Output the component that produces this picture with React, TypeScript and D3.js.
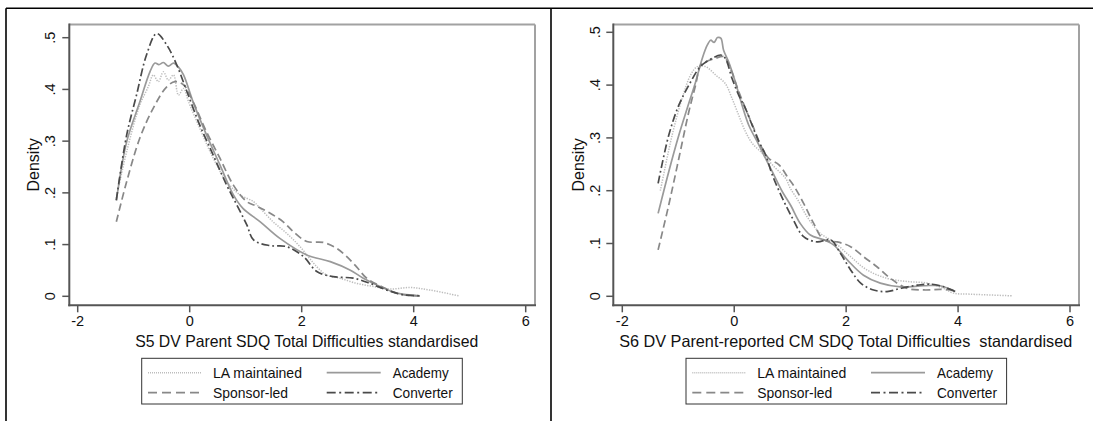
import React from 'react';
import * as d3 from 'd3';

type Pt = [number, number];

// Axis ticks shared by both panels
const xTicks = [-2, 0, 2, 4, 6];
const yTicks = [0, 0.1, 0.2, 0.3, 0.4, 0.5];
const seriesNames = ['LA maintained', 'Academy', 'Sponsor-led', 'Converter'];

// Kernel density estimates, sweep 5 (x = standardised score, y = density)
const s5LaMaintained: Pt[] = [
  [-1.31, 0.19], [-1.125, 0.28], [-0.89, 0.37], [-0.74, 0.405], [-0.65, 0.428], [-0.56, 0.415],
  [-0.47, 0.434], [-0.38, 0.418], [-0.29, 0.428], [-0.2, 0.389], [-0.11, 0.402], [-0.02, 0.376],
  [0.18, 0.325], [0.42, 0.267], [0.66, 0.222], [0.9, 0.196], [1.14, 0.183], [1.26, 0.17],
  [1.49, 0.144], [1.73, 0.122], [1.97, 0.096], [2.27, 0.057], [2.45, 0.041], [2.68, 0.035],
  [2.98, 0.025], [3.28, 0.019], [3.58, 0.014], [3.93, 0.017], [4.29, 0.012], [4.8, 0.001],
];
const s5Academy: Pt[] = [
  [-1.31, 0.185], [-1.125, 0.299], [-0.89, 0.376], [-0.71, 0.434], [-0.62, 0.451], [-0.55, 0.448],
  [-0.47, 0.452], [-0.38, 0.445], [-0.29, 0.451], [-0.2, 0.443], [-0.11, 0.428], [0.06, 0.376],
  [0.3, 0.312], [0.54, 0.254], [0.78, 0.196], [0.95, 0.17], [1.26, 0.144], [1.61, 0.112],
  [2.09, 0.08], [2.51, 0.067], [2.86, 0.051], [3.1, 0.035], [3.4, 0.019], [3.7, 0.006], [4.11, 0.001],
];
const s5SponsorLed: Pt[] = [
  [-1.31, 0.144], [-1.125, 0.222], [-0.89, 0.306], [-0.65, 0.364], [-0.41, 0.405], [-0.26, 0.415],
  [-0.11, 0.409], [0.06, 0.376], [0.3, 0.318], [0.54, 0.267], [0.78, 0.215], [1.02, 0.183],
  [1.2, 0.174], [1.43, 0.161], [1.67, 0.144], [1.85, 0.125], [2.09, 0.106], [2.39, 0.104],
  [2.62, 0.093], [2.8, 0.077], [2.98, 0.057], [3.16, 0.035], [3.46, 0.017], [3.76, 0.004], [4.11, 0.001],
];
const s5Converter: Pt[] = [
  [-1.31, 0.186], [-1.125, 0.312], [-0.95, 0.389], [-0.77, 0.467], [-0.59, 0.508], [-0.41, 0.486],
  [-0.23, 0.447], [-0.05, 0.396], [0.18, 0.331], [0.42, 0.273], [0.66, 0.215], [0.84, 0.177],
  [1.02, 0.138], [1.14, 0.109], [1.43, 0.098], [1.73, 0.096], [2.03, 0.077], [2.27, 0.048],
  [2.56, 0.038], [2.92, 0.035], [3.22, 0.025], [3.52, 0.012], [3.81, 0.003], [4.14, 0.001],
];

// Kernel density estimates, sweep 6
const s6LaMaintained: Pt[] = [
  [-1.32, 0.2], [-1.11, 0.305], [-0.93, 0.375], [-0.78, 0.419], [-0.66, 0.435], [-0.51, 0.435],
  [-0.33, 0.419], [-0.16, 0.403], [-0.04, 0.375], [0.08, 0.343], [0.2, 0.312], [0.32, 0.29],
  [0.5, 0.271], [0.68, 0.249], [0.92, 0.223], [1.0, 0.205], [1.15, 0.18], [1.3, 0.151],
  [1.54, 0.119], [1.78, 0.103], [2.08, 0.075], [2.37, 0.05], [2.73, 0.034], [3.09, 0.028],
  [3.45, 0.025], [3.74, 0.015], [3.92, 0.006], [4.22, 0.004], [4.96, 0.001],
];
const s6Academy: Pt[] = [
  [-1.36, 0.157], [-1.17, 0.236], [-0.99, 0.305], [-0.84, 0.356], [-0.69, 0.406], [-0.57, 0.451],
  [-0.48, 0.476], [-0.42, 0.485], [-0.36, 0.481], [-0.3, 0.49], [-0.24, 0.489], [-0.19, 0.466],
  [-0.1, 0.444], [0.02, 0.406], [0.14, 0.362], [0.26, 0.324], [0.44, 0.287], [0.56, 0.261],
  [0.68, 0.236], [0.86, 0.198], [1.01, 0.172], [1.18, 0.138], [1.36, 0.116], [1.6, 0.107],
  [1.78, 0.097], [2.02, 0.069], [2.31, 0.04], [2.61, 0.025], [2.97, 0.018], [3.39, 0.02],
  [3.68, 0.02], [3.95, 0.009],
];
const s6SponsorLed: Pt[] = [
  [-1.36, 0.088], [-1.17, 0.173], [-0.99, 0.261], [-0.81, 0.35], [-0.69, 0.4], [-0.6, 0.438],
  [-0.51, 0.444], [-0.33, 0.451], [-0.19, 0.454], [-0.07, 0.432], [0.08, 0.388], [0.2, 0.356],
  [0.35, 0.318], [0.5, 0.28], [0.62, 0.261], [0.8, 0.249], [0.97, 0.223], [1.06, 0.21],
  [1.24, 0.176], [1.42, 0.138], [1.6, 0.107], [1.84, 0.103], [2.08, 0.094], [2.31, 0.075],
  [2.55, 0.056], [2.79, 0.034], [3.09, 0.015], [3.39, 0.012], [3.68, 0.013], [3.95, 0.012],
];
const s6Converter: Pt[] = [
  [-1.36, 0.214], [-1.17, 0.305], [-0.99, 0.362], [-0.81, 0.4], [-0.63, 0.432], [-0.54, 0.441],
  [-0.39, 0.451], [-0.24, 0.457], [-0.16, 0.451], [-0.04, 0.413], [0.08, 0.381], [0.2, 0.356],
  [0.32, 0.324], [0.44, 0.293], [0.56, 0.268], [0.68, 0.23], [0.86, 0.186], [1.04, 0.148],
  [1.24, 0.113], [1.48, 0.103], [1.72, 0.107], [1.9, 0.081], [2.08, 0.05], [2.26, 0.025],
  [2.49, 0.012], [2.73, 0.009], [2.97, 0.015], [3.27, 0.021], [3.51, 0.023], [3.74, 0.018],
  [3.95, 0.009],
];

const lineStyles: Record<string, { stroke: string; dash?: string; width: number; legendDash?: string }> = {
  'LA maintained': { stroke: '#bdbdbd', dash: '1.3 1.3', width: 1.5, legendDash: '1 1' },
  Academy: { stroke: '#9a9a9a', width: 1.7 },
  'Sponsor-led': { stroke: '#888888', dash: '7.5 4', width: 1.7, legendDash: '9 5' },
  Converter: { stroke: '#4a4a4a', dash: '8 3 1.8 3', width: 1.7, legendDash: '9 3.5 2 3.5' },
};

const FONT = "'Liberation Sans', Arial, Helvetica, sans-serif";

interface PanelLayout {
  frame: { left: number; right: number; top: number; bottom: number };
  xRange: [number, number];
  yRange: [number, number];
  yLabelX: number;
  densityX: number;
  title: string;
  titleX: number;
  titleWidth: number;
  legendX: number;
}

function Panel({ layout, series }: { layout: PanelLayout; series: Pt[][] }) {
  const { frame } = layout;
  const x = d3.scaleLinear().domain([-2, 6]).range(layout.xRange);
  const y = d3.scaleLinear().domain([0, 0.5]).range(layout.yRange);
  const line = d3
    .line<Pt>()
    .x((d) => x(d[0]))
    .y((d) => y(d[1]))
    .curve(d3.curveCatmullRom.alpha(0.5));
  const fmt = (v: number) => (v === 0 ? '0' : d3.format('.1f')(v).replace(/^0/, ''));

  const legendY = 358.3;
  const legendH = 45.7;
  const legendW = 320.6;
  const lx = layout.legendX;
  const legendItems = [
    { name: seriesNames[0], col: 0, row: 0 },
    { name: seriesNames[1], col: 1, row: 0 },
    { name: seriesNames[2], col: 0, row: 1 },
    { name: seriesNames[3], col: 1, row: 1 },
  ];
  const legendTextWidth: Record<string, number> = {
    'LA maintained': 89,
    Academy: 56,
    'Sponsor-led': 75,
    Converter: 60,
  };

  return (
    <g>
      {/* plot region outline */}
      <line x1={frame.left} x2={frame.right} y1={frame.top} y2={frame.top} stroke="#a2a2a2" strokeWidth={2} />
      <line x1={frame.right} x2={frame.right} y1={frame.top} y2={frame.bottom} stroke="#a2a2a2" strokeWidth={2} />
      {/* density curves */}
      {series.map((pts, i) => {
        const st = lineStyles[seriesNames[i]];
        return (
          <path
            key={seriesNames[i]}
            d={line(pts) || ''}
            fill="none"
            stroke={st.stroke}
            strokeWidth={st.width}
            strokeDasharray={st.dash}
          />
        );
      })}
      {/* axes */}
      <line x1={frame.left} x2={frame.left} y1={frame.top - 1} y2={frame.bottom + 1} stroke="#555" strokeWidth={2} />
      <line x1={frame.left - 1} x2={frame.right + 1} y1={frame.bottom} y2={frame.bottom} stroke="#555" strokeWidth={2} />
      {yTicks.map((t) => (
        <g key={'y' + t}>
          <line x1={frame.left - 7} x2={frame.left} y1={y(t)} y2={y(t)} stroke="#555" strokeWidth={1.5} />
          <text
            transform={`translate(${layout.yLabelX},${y(t)}) rotate(-90)`}
            textAnchor="middle"
            dy="0.36em"
            fontSize={14.5}
            fontFamily={FONT}
            fill="#111"
          >
            {fmt(t)}
          </text>
        </g>
      ))}
      {xTicks.map((t) => (
        <g key={'x' + t}>
          <line x1={x(t)} x2={x(t)} y1={frame.bottom} y2={frame.bottom + 7} stroke="#555" strokeWidth={1.5} />
          <text x={x(t)} y={326} textAnchor="middle" fontSize={14.5} fontFamily={FONT} fill="#111">
            {t}
          </text>
        </g>
      ))}
      <text
        transform={`translate(${layout.densityX},${(frame.top + frame.bottom) / 2}) rotate(-90)`}
        textAnchor="middle"
        dy="0.36em"
        fontSize={16}
        fontFamily={FONT}
        fill="#111"
      >
        Density
      </text>
      <text
        x={layout.titleX}
        y={347.4}
        textAnchor="middle"
        fontSize={16.5}
        fontFamily={FONT}
        fill="#111"
        textLength={layout.titleWidth}
        lengthAdjust="spacingAndGlyphs"
        style={{ whiteSpace: 'pre' }}
      >
        {layout.title}
      </text>
      {/* legend */}
      <rect x={lx} y={legendY} width={legendW} height={legendH} fill="#fff" stroke="#333" strokeWidth={1} />
      {legendItems.map((it) => {
        const st = lineStyles[it.name];
        const rowY = legendY + 14.4 + it.row * 20;
        const lineX0 = lx + (it.col === 0 ? 6.3 : 185);
        const textX = lx + (it.col === 0 ? 71.3 : 251);
        return (
          <g key={it.name}>
            <line
              x1={lineX0}
              x2={lineX0 + 54}
              y1={rowY}
              y2={rowY}
              stroke={st.stroke}
              strokeWidth={st.width}
              strokeDasharray={st.legendDash ?? st.dash}
            />
            <text
              x={textX}
              y={rowY + 5.2}
              fontSize={15}
              fontFamily={FONT}
              fill="#111"
              textLength={legendTextWidth[it.name]}
              lengthAdjust="spacingAndGlyphs"
            >
              {it.name}
            </text>
          </g>
        );
      })}
    </g>
  );
}

const leftLayout: PanelLayout = {
  frame: { left: 69.3, right: 535, top: 24.4, bottom: 305.3 },
  xRange: [77.7, 525.7],
  yRange: [296.3, 37.7],
  yLabelX: 50,
  densityX: 33,
  title: 'S5 DV Parent SDQ Total Difficulties standardised',
  titleX: 306.7,
  titleWidth: 343,
  legendX: 141.7,
};

const rightLayout: PanelLayout = {
  frame: { left: 613.3, right: 1079, top: 24.4, bottom: 305.3 },
  xRange: [622.3, 1070],
  yRange: [296.3, 32.3],
  yLabelX: 595,
  densityX: 578.3,
  title: 'S6 DV Parent-reported CM SDQ Total Difficulties  standardised',
  titleX: 845.7,
  titleWidth: 453,
  legendX: 686,
};

export default function App() {
  return (
    <svg
      width={1093}
      height={421}
      viewBox="0 0 1093 421"
      style={{ position: 'absolute', left: 0, top: 0, background: '#fff' }}
    >
      <rect width={1093} height={421} fill="#fff" />
      {/* outer table rules */}
      <line x1={6} x2={1093} y1={8.2} y2={8.2} stroke="#000" strokeWidth={1.6} />
      <line x1={6} x2={6} y1={8.2} y2={421} stroke="#000" strokeWidth={1.6} />
      <line x1={551} x2={551} y1={8.2} y2={421} stroke="#000" strokeWidth={1.6} />
      <Panel layout={leftLayout} series={[s5LaMaintained, s5Academy, s5SponsorLed, s5Converter]} />
      <Panel layout={rightLayout} series={[s6LaMaintained, s6Academy, s6SponsorLed, s6Converter]} />
    </svg>
  );
}
